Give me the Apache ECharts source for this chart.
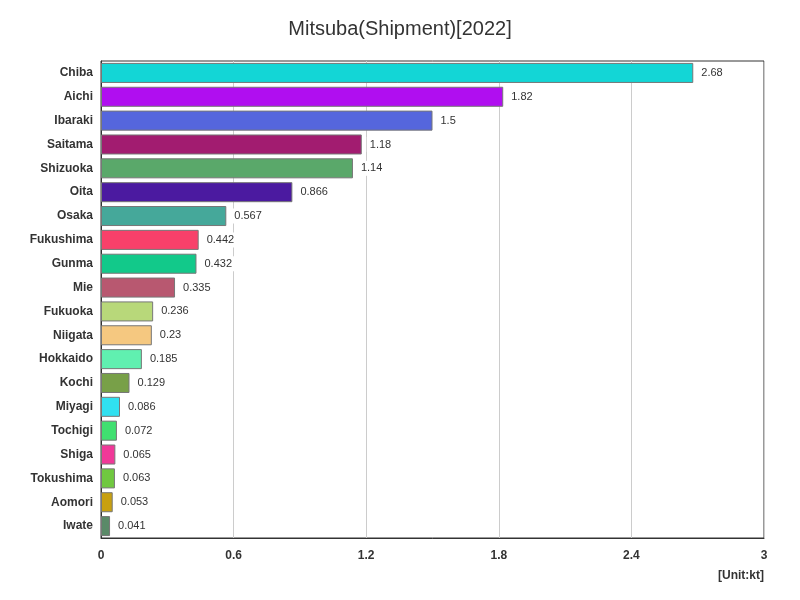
<!DOCTYPE html>
<html lang="en">
<head>
    <meta charset="UTF-8">
    <title>Mitsuba</title>
    <script src="https://cdn.jsdelivr.net/npm/echarts@6/dist/echarts.min.js"></script>
</head>
<body style="margin:0">
    <div id="main" style="width:800px;height:600px;"></div>
</body>
<script>
    var prefectures = ['Chiba','Aichi','Ibaraki','Saitama','Shizuoka','Oita','Osaka','Fukushima','Gunma','Mie',
        'Fukuoka','Niigata','Hokkaido','Kochi','Miyagi','Tochigi','Shiga','Tokushima','Aomori','Iwate'];
    var shipment = [2.68,1.82,1.5,1.18,1.14,0.866,0.567,0.442,0.432,0.335,
        0.236,0.23,0.185,0.129,0.086,0.072,0.065,0.063,0.053,0.041];
    var barColors = ['#13D6D6','#B00EF0','#5566DD','#A21C70','#5AA86A','#4B1AA0','#45A89A','#F8406A','#12C98A','#B85870',
        '#B8D87A','#F5C880','#60F0B0','#78A048','#30E0F0','#40E070','#F03898','#70C840','#C8A010','#5A8A68'];
    var xTicks = [0, 0.6, 1.2, 1.8, 2.4, 3];

    var myChart = echarts.init(document.getElementById('main'));

    var option = {
        title: {
            text: 'Mitsuba(Shipment)[2022]',
            left: 'center',
            top: 14,
            textStyle: {fontSize: 20, fontWeight: 'normal', color: '#333'}
        },
        grid: {left: 101, right: 36, top: 61, bottom: 62},
        xAxis: {
            type: 'value',
            min: xTicks[0],
            max: xTicks[xTicks.length - 1],
            interval: 0.6,
            axisLine: {show: true, lineStyle: {color: '#333'}},
            axisLabel: {fontWeight: 'bold', color: '#333', fontSize: 12, margin: 12},
            splitLine: {lineStyle: {color: '#ccc'}}
        },
        yAxis: {
            type: 'category',
            data: prefectures,
            inverse: true,
            axisLine: {show: true, lineStyle: {color: '#333'}},
            axisTick: {show: false},
            axisLabel: {fontWeight: 'bold', color: '#333', fontSize: 12},
            splitLine: {show: false}
        },
        graphic: [
            {type: 'rect', shape: {x: 101, y: 61, width: 663, height: 477},
                style: {fill: 'none', stroke: '#333', lineWidth: 1}, silent: true},
            {type: 'text', right: 36, top: 570,
                style: {text: '[Unit:kt]', fontWeight: 'bold', fontSize: 12, fill: '#333'}}
        ],
        series: [{
            type: 'bar',
            barCategoryGap: '16%',
            data: shipment.map(function (v, i) {
                return {value: v, itemStyle: {color: barColors[i]}};
            }),
            itemStyle: {borderColor: '#777', borderWidth: 1},
            label: {show: true, position: 'right', color: '#333', fontSize: 11,
                backgroundColor: '#fff', padding: [2, 3]}
        }]
    };
    myChart.setOption(option);
</script>
</html>
